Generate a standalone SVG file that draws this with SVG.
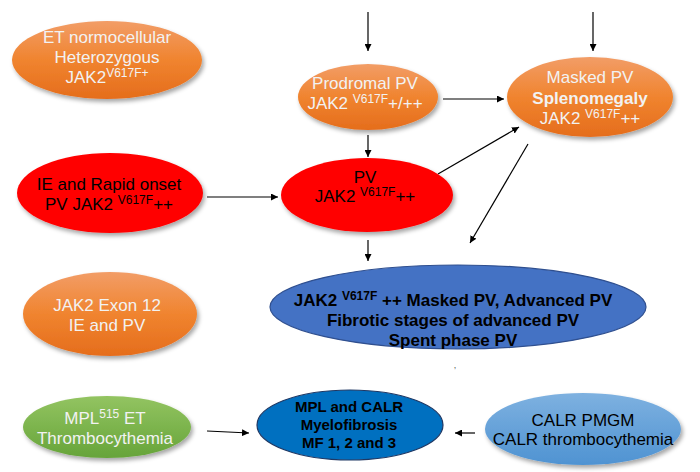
<svg xmlns="http://www.w3.org/2000/svg" width="700" height="472" viewBox="0 0 700 472">
<defs>
<linearGradient id="gOrange" x1="0" y1="0" x2="0" y2="1">
<stop offset="0" stop-color="#f29d67"/><stop offset="0.5" stop-color="#f0842f"/><stop offset="1" stop-color="#e56d1c"/>
</linearGradient>
<linearGradient id="gGreen" x1="0" y1="0" x2="0" y2="1">
<stop offset="0" stop-color="#93c461"/><stop offset="1" stop-color="#66a43a"/>
</linearGradient>
<linearGradient id="gLBlue" x1="0" y1="0" x2="0" y2="1">
<stop offset="0" stop-color="#7eb1e0"/><stop offset="1" stop-color="#4f93d2"/>
</linearGradient>
<filter id="sh" x="-20%" y="-20%" width="140%" height="150%">
<feDropShadow dx="2" dy="3" stdDeviation="2" flood-color="#000" flood-opacity="0.35"/>
</filter>
<marker id="ah" viewBox="0 0 10 10" refX="10" refY="5" markerWidth="7" markerHeight="7" markerUnits="userSpaceOnUse" orient="auto">
<path d="M0,0 L10,5 L0,10 z" fill="#000"/>
</marker>
</defs>
<style>
text{font-family:"Liberation Sans",Arial,sans-serif;font-size:17px;text-anchor:middle}
.lt{fill:#f2f2f2}
.dk{fill:#000}
.b{font-weight:bold}
.sup{font-size:12px}
.or{fill:url(#gOrange);filter:url(#sh)}
.red{fill:#ff0000;filter:url(#sh)}
.gr{fill:url(#gGreen);filter:url(#sh)}
.lb{fill:url(#gLBlue);filter:url(#sh)}
.con line{stroke:#000;stroke-width:1.2;marker-end:url(#ah)}
</style>

<g id="connectors" class="con">
<line x1="368" y1="12" x2="368" y2="51"/>
<line x1="593" y1="12" x2="593" y2="51"/>
<line x1="443" y1="99" x2="504" y2="99"/>
<line x1="368" y1="135" x2="368" y2="157"/>
<line x1="438" y1="174" x2="519" y2="127"/>
<line x1="528" y1="144" x2="470" y2="243"/>
<line x1="368" y1="240" x2="368" y2="261"/>
<line x1="207" y1="197" x2="278" y2="197"/>
<line x1="207" y1="431" x2="249" y2="433"/>
<line x1="475" y1="433" x2="455" y2="433"/>
</g>

<g id="et">
<ellipse class="or" cx="107" cy="60" rx="95" ry="39"/>
<text class="lt" x="107" y="43">ET normocellular</text>
<text class="lt" x="107" y="63">Heterozygous</text>
<text class="lt" x="107" y="83">JAK2<tspan class="sup" dy="-6">V617F+</tspan></text>
</g>

<g id="prodromal">
<ellipse class="or" cx="368" cy="97" rx="70" ry="33"/>
<text class="lt" x="365" y="89">Prodromal PV</text>
<text class="lt" x="365" y="109">JAK2 <tspan class="sup" dy="-6">V617F</tspan><tspan dy="6">+/++</tspan></text>
</g>

<g id="masked">
<ellipse class="or" cx="590" cy="97" rx="83" ry="40"/>
<text class="lt" x="590" y="83">Masked PV</text>
<text class="lt b" x="590" y="104">Splenomegaly</text>
<text class="lt" x="590" y="124">JAK2 <tspan class="sup" dy="-6">V617F</tspan><tspan dy="6">++</tspan></text>
</g>

<g id="pv">
<ellipse class="red" cx="367" cy="195" rx="86" ry="37"/>
<text class="dk" x="365" y="183">PV</text>
<text class="dk" x="365" y="202">JAK2 <tspan class="sup" dy="-6">V617F</tspan><tspan dy="6">++</tspan></text>
</g>

<g id="ie">
<ellipse class="red" cx="110" cy="193" rx="93" ry="40"/>
<text class="dk" x="109" y="190">IE and Rapid onset</text>
<text class="dk" x="109" y="210">PV JAK2 <tspan class="sup" dy="-6">V617F</tspan><tspan dy="6">++</tspan></text>
</g>

<g id="exon12">
<ellipse class="or" cx="110" cy="314" rx="87" ry="42"/>
<text class="lt" x="107" y="311">JAK2 Exon 12</text>
<text class="lt" x="107" y="331">IE and PV</text>
</g>

<g id="advanced">
<ellipse cx="458" cy="307" rx="188" ry="42" fill="#4472c4" stroke="#2f4f8f" stroke-width="1.2"/>
<text class="dk b" x="453" y="306">JAK2 <tspan class="sup" dy="-6">V617F</tspan><tspan dy="6"> ++ Masked PV, Advanced PV</tspan></text>
<text class="dk b" x="453" y="326">Fibrotic stages of advanced PV</text>
<text class="dk b" x="453" y="346">Spent phase PV</text>
</g>

<text x="455" y="368" style="font-size:9px;fill:#555">,</text>

<g id="mpl">
<ellipse class="gr" cx="107" cy="427" rx="84" ry="31"/>
<text class="lt" x="105" y="424">MPL<tspan class="sup" dy="-6">515</tspan><tspan dy="6"> ET</tspan></text>
<text class="lt" x="105" y="444">Thrombocythemia</text>
</g>

<g id="mf">
<ellipse cx="350" cy="425" rx="93" ry="35" fill="#0070c0" stroke="#1f3864" stroke-width="1.2"/>
<text class="dk b" x="349" y="412" style="font-size:15px">MPL and CALR</text>
<text class="dk b" x="349" y="430" style="font-size:15px">Myelofibrosis</text>
<text class="dk b" x="349" y="448" style="font-size:15px">MF 1, 2 and 3</text>
</g>

<g id="calr">
<ellipse class="lb" cx="583" cy="429" rx="98" ry="36"/>
<text class="dk" x="583" y="426">CALR PMGM</text>
<text class="dk" x="583" y="445">CALR thrombocythemia</text>
</g>
</svg>
